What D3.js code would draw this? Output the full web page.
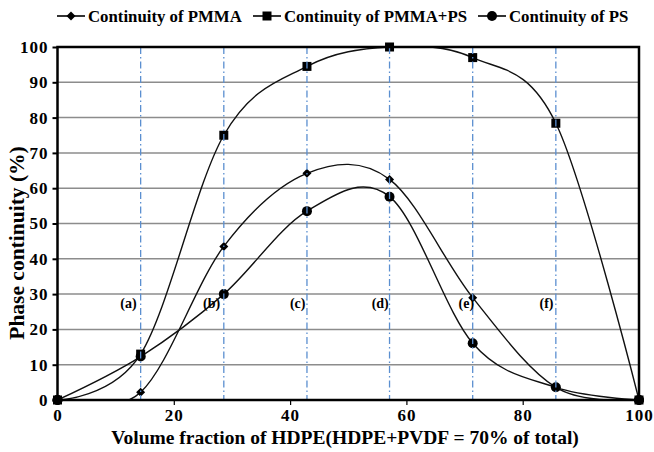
<!DOCTYPE html>
<html>
<head>
<meta charset="utf-8">
<script src="https://cdn.jsdelivr.net/npm/d3@7"></script>
<style>
  body { margin: 0; background: #fff; }
  text { font-family: "Liberation Serif", "Times New Roman", serif; font-weight: bold; fill: #000; }
</style>
</head>
<body>
<div id="chart"></div>
<script>
// data
const xValues = [0, 14.3, 28.6, 42.9, 57.1, 71.4, 85.7, 100];
const pmma = [0, 2.2, 43.5, 64.2, 62.5, 29, 3.6, 0];
const pmmaPs = [0, 13, 75, 94.5, 100, 97, 78.4, 0];
const ps = [0, 12.3, 30, 53.5, 57.6, 16.1, 3.6, 0];
const seriesNames = ["Continuity of PMMA", "Continuity of PMMA+PS", "Continuity of PS"];
const markerShapes = ["diamond", "square", "circle"];
const markerLines = [14.3, 28.6, 42.9, 57.1, 71.4, 85.7];
const regionLabels = ["(a)", "(b)", "(c)", "(d)", "(e)", "(f)"];
const regionLabelX = [12.2, 26.5, 41.3, 55.5, 70.3, 84.1];
const regionLabelY = 26;
const xTicks = [0, 20, 40, 60, 80, 100];
const yTicks = [0, 10, 20, 30, 40, 50, 60, 70, 80, 90, 100];

const W = 654, H = 452;
const margin = { top: 47, right: 15, bottom: 52, left: 57.5 };
const width = W - margin.left - margin.right;
const height = H - margin.top - margin.bottom;

const svg = d3.select("#chart").append("svg")
  .attr("width", W).attr("height", H);

const x = d3.scaleLinear().domain([0, 100]).range([0, width]);
const y = d3.scaleLinear().domain([0, 100]).range([height, 0]);

const g = svg.append("g").attr("transform", `translate(${margin.left},${margin.top})`);

svg.append("defs").append("clipPath").attr("id", "plotclip")
  .append("rect").attr("x", 0).attr("y", 0).attr("width", width).attr("height", height);

// gridlines
g.selectAll(".grid").data(yTicks.filter(d => d > 0 && d < 100)).enter()
  .append("line")
  .attr("x1", 0).attr("x2", width)
  .attr("y1", d => y(d)).attr("y2", d => y(d))
  .attr("stroke", "#8c8c8c").attr("stroke-width", 1.5);

// y axis
const yAxis = g.append("g")
  .call(d3.axisLeft(y).tickValues(yTicks).tickSize(5).tickPadding(4));
yAxis.select(".domain").remove();
yAxis.selectAll("line").attr("stroke", "#000").attr("stroke-width", 2);
yAxis.selectAll("text").style("font-size", "17px").style("letter-spacing", "1px").attr("fill", "#000");

// x axis
const xAxis = g.append("g").attr("transform", `translate(0,${height})`)
  .call(d3.axisBottom(x).tickValues(xTicks).tickSize(5).tickPadding(4));
xAxis.select(".domain").remove();
xAxis.selectAll("line").attr("stroke", "#000").attr("stroke-width", 1.2);
xAxis.selectAll("text").style("font-size", "17px").style("letter-spacing", "1px").attr("fill", "#000");

// curves
const allSeries = [pmma, pmmaPs, ps];
const line = d3.line()
  .x((d, i) => x(xValues[i]))
  .y(d => y(d))
  .curve(d3.curveCatmullRom.alpha(0));

const plot = g.append("g").attr("clip-path", "url(#plotclip)");
plot.selectAll(".series").data(allSeries).enter()
  .append("path")
  .attr("d", line)
  .attr("fill", "none")
  .attr("stroke", "#111")
  .attr("stroke-width", 1.4);

function drawMarker(sel, shape) {
  if (shape === "diamond") {
    sel.append("path").attr("d", "M0,-4.5L4.5,0L0,4.5L-4.5,0Z").attr("fill", "#000");
  } else if (shape === "square") {
    sel.append("rect").attr("x", -4.5).attr("y", -4.5).attr("width", 9).attr("height", 9).attr("fill", "#000");
  } else {
    sel.append("circle").attr("r", 5).attr("fill", "#000");
  }
}

allSeries.forEach((s, k) => {
  s.forEach((v, i) => {
    const m = g.append("g").attr("transform", `translate(${x(xValues[i])},${y(v)})`);
    drawMarker(m, markerShapes[k]);
  });
});

// dash-dot vertical reference lines
g.selectAll(".vline").data(markerLines).enter()
  .append("line")
  .attr("x1", d => x(d)).attr("x2", d => x(d))
  .attr("y1", 0).attr("y2", height)
  .attr("stroke", "#5b8fd0").attr("stroke-width", 1.3)
  .attr("stroke-dasharray", "7,3,1.5,3");

// region labels
g.selectAll(".rlabel").data(regionLabels).enter()
  .append("text")
  .attr("x", (d, i) => x(regionLabelX[i]))
  .attr("y", y(regionLabelY))
  .attr("text-anchor", "middle")
  .style("font-size", "14px")
  .text(d => d);

// plot frame
g.append("rect")
  .attr("x", 0).attr("y", 0).attr("width", width).attr("height", height)
  .attr("fill", "none").attr("stroke", "#000").attr("stroke-width", 2.5);

// end markers on top of the frame
[0, 100].forEach(v => {
  g.append("circle").attr("cx", x(v)).attr("cy", y(0)).attr("r", 5).attr("fill", "#000");
});

// axis titles
svg.append("text")
  .attr("x", 345)
  .attr("y", 444)
  .attr("text-anchor", "middle")
  .style("font-size", "19.5px")
  .text("Volume fraction of HDPE(HDPE+PVDF = 70% of total)");

svg.append("text")
  .attr("transform", "translate(24,243) rotate(-90)")
  .attr("text-anchor", "middle")
  .style("font-size", "21.5px")
  .text("Phase continuity (%)");

// legend
const legendX = [57, 253, 478];
seriesNames.forEach((name, k) => {
  const lg = svg.append("g").attr("transform", `translate(${legendX[k]},16)`);
  lg.append("line").attr("x1", 0).attr("x2", 28).attr("y1", 0).attr("y2", 0)
    .attr("stroke", "#000").attr("stroke-width", 1.6);
  drawMarker(lg.append("g").attr("transform", "translate(14,0)"), markerShapes[k]);
  lg.append("text").attr("x", 31).attr("y", 6).style("font-size", "16.8px").text(name);
});
</script>
</body>
</html>
